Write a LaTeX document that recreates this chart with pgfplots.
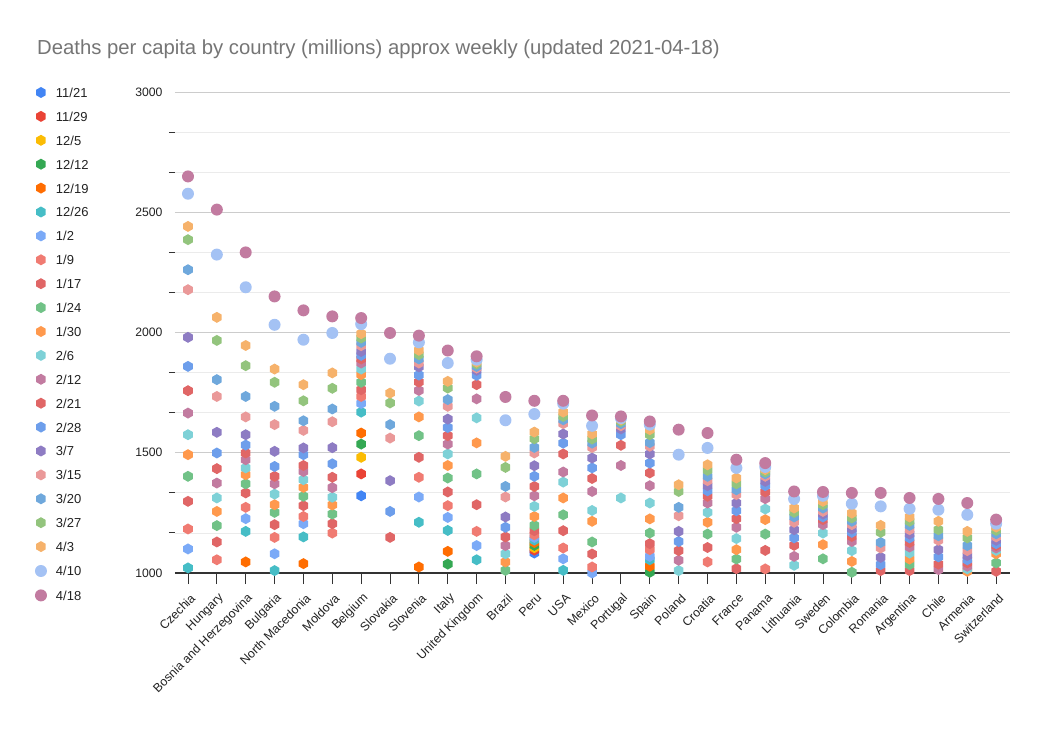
\documentclass[border=0pt]{standalone}
\usepackage{fontspec}
\setmainfont{Liberation Sans}
\usepackage{pgfplots}
\usepackage{pgfplotstable}
\pgfplotsset{compat=1.18}
\definecolor{c1}{HTML}{4285F4}
\definecolor{c2}{HTML}{EA4335}
\definecolor{c3}{HTML}{FBBC04}
\definecolor{c4}{HTML}{34A853}
\definecolor{c5}{HTML}{FF6D01}
\definecolor{c6}{HTML}{46BDC6}
\definecolor{c7}{HTML}{7BAAF7}
\definecolor{c8}{HTML}{F07B72}
\definecolor{c9}{HTML}{E06666}
\definecolor{c10}{HTML}{71C287}
\definecolor{c11}{HTML}{FF994D}
\definecolor{c12}{HTML}{7ED1D7}
\definecolor{c13}{HTML}{C27BA0}
\definecolor{c14}{HTML}{E06666}
\definecolor{c15}{HTML}{6D9EEB}
\definecolor{c16}{HTML}{8E7CC3}
\definecolor{c17}{HTML}{EA9999}
\definecolor{c18}{HTML}{6FA8DC}
\definecolor{c19}{HTML}{93C47D}
\definecolor{c20}{HTML}{F6B26B}
\definecolor{c21}{HTML}{A4C2F4}
\definecolor{c22}{HTML}{C27BA0}
\definecolor{titlec}{HTML}{757575}
\definecolor{axisc}{HTML}{333333}
\definecolor{gridmaj}{HTML}{CCCCCC}
\definecolor{gridmin}{HTML}{EBEBEB}
\definecolor{labelc}{HTML}{222222}
\pgfdeclareplotmark{hexa}{%
  \pgfpathmoveto{\pgfpointpolar{90}{\pgfplotmarksize}}%
  \pgfpathlineto{\pgfpointpolar{150}{\pgfplotmarksize}}%
  \pgfpathlineto{\pgfpointpolar{210}{\pgfplotmarksize}}%
  \pgfpathlineto{\pgfpointpolar{270}{\pgfplotmarksize}}%
  \pgfpathlineto{\pgfpointpolar{330}{\pgfplotmarksize}}%
  \pgfpathlineto{\pgfpointpolar{30}{\pgfplotmarksize}}%
  \pgfpathclose\pgfusepathqfill}
\pgfdeclareplotmark{dot}{\pgfpathcircle{\pgfpointorigin}{\pgfplotmarksize}\pgfusepathqfill}
\pgfplotsset{
  hx/.style={only marks, mark=hexa, mark size=5.5pt, color=#1},
  dt/.style={only marks, mark=dot, mark size=6pt, color=#1}
}
\pgfplotstableread{
x s1 s2 s3 s4 s5 s6 s7 s8 s9 s10 s11 s12 s13 s14 s15 s16 s17 s18 s19 s20 s21 s22
0 nan nan nan nan nan 1021 1100 1183 1298 1402 1492 1575 1665 1758 1859 1980 2178 2261 2386 2441 2577 2649
1 nan nan nan nan nan nan 993 1055 1129 1197 1256 1312 1374 1434 1499 1585 1734 1804 1967 2063 2324 2511
2 nan nan nan nan 1046 1173 1226 1273 1333 1371 1409 1437 1471 1499 1532 1575 1649 1734 1862 1946 2188 2333
3 nan nan nan nan nan 1010 1080 1148 1201 1252 1284 1328 1371 1402 1443 1506 1617 1693 1793 1848 2032 2150
4 nan nan nan 993 1039 1150 1205 1235 1280 1319 1356 1388 1422 1447 1492 1520 1593 1633 1716 1783 1970 2092
5 nan nan nan nan nan nan 993 1166 1205 1245 1283 1315 1355 1398 1454 1521 1629 1682 1768 1832 1998 2067
6 1321 1412 1481 1536 1582 1669 1705 1734 1762 1793 1825 1848 1873 1890 1905 1921 1945 1959 1977 1995 2035 2060
7 nan nan nan nan nan nan nan nan nan nan nan nan nan 1148 1256 1384 1561 1617 1707 1748 1891 1998
8 nan nan nan nan 1025 1211 1316 1398 1481 1571 1649 1715 1759 1794 1823 1857 1873 1890 1908 1926 1959 1987
9 nan nan nan 1037 1090 1177 1231 1280 1337 1395 1447 1495 1536 1571 1605 1640 1693 1721 1769 1797 1873 1925
10 nan nan nan nan nan 1055 1114 1173 1284 1412 1541 1645 1724 1783 1822 1843 1852 1859 1869 1877 1887 1901
11 nan nan nan nan nan nan nan nan nan 1011 1046 1080 1114 1150 1190 1233 1316 1360 1439 1485 1635 1732
12 1083 1095 1105 1115 1127 1137 1148 1159 1176 1198 1235 1277 1321 1360 1402 1446 1499 1522 1558 1586 1661 1716
13 nan nan nan nan nan 1011 1059 1104 1176 1242 1312 1378 1420 1495 1540 1578 1621 1637 1651 1669 1704 1716
14 nan nan nan nan nan nan 1000 1025 1079 1129 1215 1260 1339 1393 1437 1478 1522 1540 1557 1578 1612 1655
15 nan nan nan nan nan nan nan nan nan nan nan 1312 1447 1531 1575 1599 1612 1621 1630 1637 1644 1651
16 nan nan nan 1003 1028 1055 1069 1097 1122 1166 1225 1291 1363 1416 1457 1495 1527 1542 1575 1596 1617 1630
17 nan nan nan nan nan nan nan nan nan nan nan 1010 1053 1093 1131 1173 1238 1273 1339 1367 1492 1596
18 nan nan nan nan nan nan nan 1046 1106 1162 1211 1252 1291 1319 1342 1363 1384 1402 1427 1450 1520 1582
19 nan nan nan nan nan nan nan nan 1018 1058 1097 1143 1190 1226 1259 1291 1326 1346 1371 1395 1437 1471
20 nan nan nan nan nan nan nan 1017 1094 1162 1222 1266 1309 1337 1363 1381 1402 1412 1420 1430 1441 1457
21 nan nan nan nan nan nan nan nan nan nan 990 1032 1069 1115 1146 1180 1211 1233 1252 1270 1308 1339
22 nan nan nan nan nan nan nan nan 997 1059 1118 1166 1201 1222 1233 1245 1256 1270 1284 1298 1321 1337
23 nan nan nan nan nan nan nan nan nan 1003 1048 1093 1131 1152 1169 1183 1201 1215 1229 1249 1288 1333
24 nan nan nan nan nan nan nan nan nan nan nan nan nan 1010 1035 1065 1104 1127 1169 1198 1277 1333
25 nan nan nan nan nan nan nan nan 1010 1035 1058 1083 1108 1127 1146 1162 1180 1198 1215 1233 1267 1312
26 nan nan nan nan nan nan nan nan nan nan nan nan 1014 1037 1067 1097 1136 1155 1180 1215 1263 1308
27 nan nan nan nan nan nan nan nan nan nan 1007 1017 1028 1042 1055 1072 1093 1114 1146 1173 1242 1291
28 nan nan nan nan nan nan nan nan 1007 1042 1080 1094 1104 1114 1122 1136 1150 1163 1177 1191 1205 1222
}\data
\begin{document}
\begin{tikzpicture}
\useasboundingbox (0,0) rectangle (1047pt,729pt);
\node[anchor=base west, inner sep=0pt, font=\fontsize{20.3}{24}\selectfont, text=titlec] at (37pt,674pt) {Deaths per capita by country (millions) approx weekly (updated 2021-04-18)};
\begin{axis}[
  at={(175pt,156pt)}, anchor=south west,
  scale only axis, width=835pt, height=481pt,
  xmin=-0.45, xmax=28.48, ymin=1000, ymax=3000,
  axis x line*=bottom, axis y line*=left,
  y axis line style={draw=none},
  x axis line style={draw=axisc, line width=1.2pt},
  xtick={0,...,28},
  xticklabels={Czechia,Hungary,Bosnia and Herzegovina,Bulgaria,North Macedonia,Moldova,Belgium,Slovakia,Slovenia,Italy,United Kingdom,Brazil,Peru,USA,Mexico,Portugal,Spain,Poland,Croatia,France,Panama,Lithuania,Sweden,Colombia,Romania,Argentina,Chile,Armenia,Switzerland},
  xticklabel style={xshift=5pt, yshift=-12pt, rotate=45, anchor=east, inner sep=0pt, font=\fontsize{12.3}{14}\selectfont, text=labelc},
  ytick={1000,1500,...,3000}, minor y tick num=2,
  ymajorgrids, yminorgrids,
  major grid style={draw=gridmaj, line width=0.8pt},
  minor grid style={draw=gridmin, line width=0.8pt},
  tick align=outside, major tick length=11pt, minor tick length=6pt,
  every tick/.append style={draw=axisc, line width=0.9pt},
  every major y tick/.append style={draw=none},
  yticklabel style={font=\fontsize{12.2}{14}\selectfont, text=labelc, xshift=2pt},
  /pgf/number format/.cd, 1000 sep={}, assume math mode=true, /pgfplots/.cd,
  legend cell align=left,
  legend image code/.code={\path[draw=none,fill=none] (-6pt,-3pt) (6pt,7pt); \draw[#1] plot coordinates {(0pt,2pt)};},
  legend style={draw=none, fill=none, at={(axis description cs:-0.1677,1.0104)}, anchor=north west,
    row sep=10.4pt, column sep=9pt, inner sep=0pt, outer sep=0pt,
    font=\fontsize{13}{15}\selectfont, text=labelc,
    nodes={inner sep=0pt, text height=9pt, text depth=3pt}},
]
\addplot[hx=c1] table[x=x,y=s1]{\data};
\addplot[hx=c2] table[x=x,y=s2]{\data};
\addplot[hx=c3] table[x=x,y=s3]{\data};
\addplot[hx=c4] table[x=x,y=s4]{\data};
\addplot[hx=c5] table[x=x,y=s5]{\data};
\addplot[hx=c6] table[x=x,y=s6]{\data};
\addplot[hx=c7] table[x=x,y=s7]{\data};
\addplot[hx=c8] table[x=x,y=s8]{\data};
\addplot[hx=c9] table[x=x,y=s9]{\data};
\addplot[hx=c10] table[x=x,y=s10]{\data};
\addplot[hx=c11] table[x=x,y=s11]{\data};
\addplot[hx=c12] table[x=x,y=s12]{\data};
\addplot[hx=c13] table[x=x,y=s13]{\data};
\addplot[hx=c14] table[x=x,y=s14]{\data};
\addplot[hx=c15] table[x=x,y=s15]{\data};
\addplot[hx=c16] table[x=x,y=s16]{\data};
\addplot[hx=c17] table[x=x,y=s17]{\data};
\addplot[hx=c18] table[x=x,y=s18]{\data};
\addplot[hx=c19] table[x=x,y=s19]{\data};
\addplot[hx=c20] table[x=x,y=s20]{\data};
\addplot[dt=c21] table[x=x,y=s21]{\data};
\addplot[dt=c22] table[x=x,y=s22]{\data};
\legend{11/21,11/29,12/5,12/12,12/19,12/26,1/2,1/9,1/17,1/24,1/30,2/6,2/12,2/21,2/28,3/7,3/15,3/20,3/27,4/3,4/10,4/18}
\end{axis}
\end{tikzpicture}
\end{document}
